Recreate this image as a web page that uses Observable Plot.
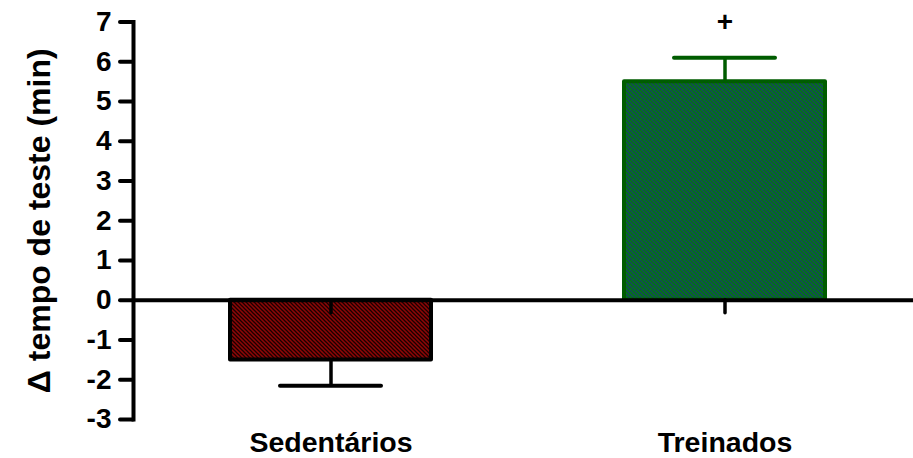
<!DOCTYPE html>
<html>
<head>
<meta charset="utf-8">
<script src="https://cdn.jsdelivr.net/npm/d3@7"></script>
<script src="https://cdn.jsdelivr.net/npm/@observablehq/plot@0.6"></script>
<style>
  html, body { margin: 0; padding: 0; background: #fff; }
</style>
</head>
<body>
<div id="chart"></div>
<script>
// Change in test time (min): group means and standard errors
const groups = ["Sedentários", "Treinados"];
const means = [-1.5, 5.5];
const sems = [0.65, 0.6];
const significance = ["", "+"];
const yTicks = [-3, -2, -1, 0, 1, 2, 3, 4, 5, 6, 7];
const yLabel = "Δ tempo de teste (min)";

// Per-group styling: hatched fills and outline colours
const fillBase = ["#900606", "#007c0a"];
const fillStripe = ["#1a0000", "#173e62"];
const edgeColor = ["#000000", "#005c00"];

const data = groups.map((g, i) => ({
  group: g,
  mean: means[i],
  sem: sems[i],
  sig: significance[i],
  end: means[i] + Math.sign(means[i]) * sems[i]
}));

const font = "'Liberation Sans', Arial, Helvetica, sans-serif";

const perGroup = (fn) => groups.map((g, i) => fn(data.filter(d => d.group === g), i));

const chart = Plot.plot({
  width: 913,
  height: 458,
  marginLeft: 133,
  marginRight: 0,
  marginTop: 21.5,
  marginBottom: 39,
  style: { fontFamily: font, fontWeight: "bold", fontSize: "28px", color: "#000", background: "#fff" },
  x: { domain: groups, range: [133, 921], paddingInner: 0.49, paddingOuter: 0.245, axis: null },
  y: { domain: [-3, 7], axis: null },
  marks: [
    // error stems and caps (drawn first so bars sit on top)
    ...perGroup((d, i) => Plot.ruleX(d, { x: "group", y1: "mean", y2: "end", stroke: edgeColor[i], strokeWidth: 3.5 })),
    ...perGroup((d, i) => Plot.tickY(d, { x: "group", y: "end", stroke: edgeColor[i], strokeWidth: 4, strokeLinecap: "round", insetLeft: 50, insetRight: 50 })),
    // bars
    ...perGroup((d, i) => Plot.barY(d, { x: "group", y1: 0, y2: "mean", fill: `url(#hatch-${i})`, stroke: edgeColor[i], strokeWidth: 4, strokeLinejoin: "round" })),
    // short stub below the baseline at each group centre
    Plot.ruleX(data, { x: "group", y1: 0, y2: 0, insetBottom: -13, stroke: "#000", strokeWidth: 3.5, strokeLinecap: "round" }),
    // baseline at zero
    Plot.ruleY([0], { stroke: "#000", strokeWidth: 4 }),
    // left axis line
    Plot.frame({ anchor: "left", stroke: "#000", strokeWidth: 4, strokeLinecap: "square" }),
    Plot.axisY({
      ticks: yTicks,
      tickFormat: d => String(d),
      tickSize: 13,
      tickPadding: 9,
      stroke: "#000",
      strokeWidth: 4,
      strokeLinecap: "round",
      fontSize: 28,
      fontWeight: "bold",
      label: null
    }),
    Plot.axisX({
      tickSize: 0,
      tickPadding: 12,
      fontSize: 28.5,
      fontWeight: "bold",
      label: null
    }),
    // significance marker
    Plot.text(data, { x: "group", frameAnchor: "top", text: "sig", fontSize: 28, fontWeight: "bold", lineAnchor: "middle", fill: "#000" }),
    // y-axis title, centred on the axis
    Plot.text([yLabel], { frameAnchor: "left", text: d => d, rotate: -90, dx: -94, fontSize: 32, fontWeight: "bold", fill: "#000", lineAnchor: "middle", textAnchor: "middle" })
  ]
});

// Hatch patterns referenced by the bar fills
const ns = "http://www.w3.org/2000/svg";
const defs = document.createElementNS(ns, "defs");
fillBase.forEach((base, i) => {
  const p = document.createElementNS(ns, "pattern");
  p.setAttribute("id", `hatch-${i}`);
  p.setAttribute("patternUnits", "userSpaceOnUse");
  p.setAttribute("width", 4);
  p.setAttribute("height", 4);
  const bg = document.createElementNS(ns, "rect");
  bg.setAttribute("width", 4);
  bg.setAttribute("height", 4);
  bg.setAttribute("fill", base);
  p.appendChild(bg);
  [["0", "0", "4", "4"], ["-1", "3", "1", "5"], ["3", "-1", "5", "1"]].forEach(([x1, y1, x2, y2]) => {
    const l = document.createElementNS(ns, "line");
    l.setAttribute("x1", x1); l.setAttribute("y1", y1);
    l.setAttribute("x2", x2); l.setAttribute("y2", y2);
    l.setAttribute("stroke", fillStripe[i]);
    l.setAttribute("stroke-width", 1.3);
    p.appendChild(l);
  });
  defs.appendChild(p);
});
chart.insertBefore(defs, chart.firstChild);

document.getElementById("chart").appendChild(chart);
</script>
</body>
</html>
